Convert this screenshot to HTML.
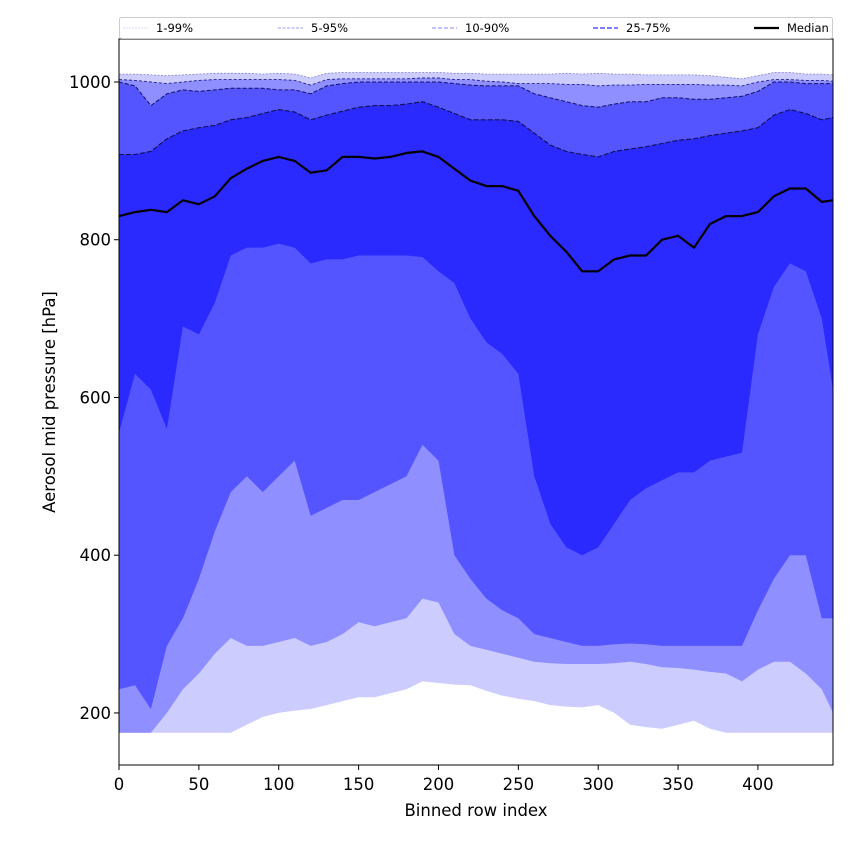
<!DOCTYPE html>
<html><head><meta charset="utf-8"><style>
html,body{margin:0;padding:0;background:#fff;}
svg{display:block;font-family:"DejaVu Sans","Liberation Sans",sans-serif;}
</style></head><body>
<svg id="chart" width="850" height="850" viewBox="0 0 850 850">
<g id="bands"></g>
<g id="lines"></g>
<g id="axes"></g>
<g id="legend"></g>
</svg>
<script>
const xIdx = [0,10,20,30,40,50,60,70,80,90,100,110,120,130,140,150,160,170,180,190,200,210,220,230,240,250,260,270,280,290,300,310,320,330,340,350,360,370,380,390,400,410,420,430,440,447];
const p99 = [1010,1010,1009,1008,1009,1010,1011,1011,1011,1010,1011,1010,1005,1011,1012,1012,1012,1012,1012,1012,1012,1011,1011,1010,1010,1010,1010,1010,1011,1010,1011,1010,1010,1009,1009,1009,1009,1008,1006,1004,1008,1012,1012,1010,1010,1009];
const p95 = [1003,1002,1000,998,1000,1002,1003,1003,1003,1003,1003,1002,996,1003,1004,1004,1004,1004,1004,1005,1005,1003,1003,1001,1000,998,998,998,997,997,995,996,996,997,997,997,997,996,996,995,1000,1003,1003,1002,1002,1001];
const p90 = [1000,995,970,985,990,988,990,992,992,992,990,990,985,995,998,1000,1000,1000,1000,1000,1000,998,996,995,995,995,985,980,975,970,968,972,975,975,980,980,978,978,980,982,988,1000,1000,998,998,998];
const p75 = [908,908,912,928,938,942,945,952,955,960,965,962,952,958,963,968,970,970,972,975,968,960,952,952,952,950,935,920,912,908,905,912,915,918,922,926,928,932,935,938,942,958,965,960,952,955];
const median = [830,835,838,835,850,845,855,878,890,900,905,900,885,888,905,905,903,905,910,912,905,890,875,868,868,862,830,805,785,760,760,775,780,780,800,805,790,820,830,830,835,855,865,865,848,850];
const p25 = [555,630,610,560,690,680,720,780,790,790,795,790,770,775,775,780,780,780,780,778,760,745,700,670,655,630,500,440,410,400,410,440,470,485,495,505,505,520,525,530,680,740,770,760,700,610];
const p10 = [230,235,205,285,320,370,430,480,500,480,500,520,450,460,470,470,480,490,500,540,520,400,370,345,330,320,300,295,290,285,285,287,288,287,285,285,285,285,285,285,330,370,400,400,320,320];
const p5 = [175,175,175,200,230,250,275,295,285,285,290,295,285,290,300,315,310,315,320,345,340,300,285,280,275,270,265,263,262,262,262,263,265,262,258,257,255,252,250,240,255,265,265,250,230,200];
const p1 = [175,175,175,175,175,175,175,175,185,195,200,203,205,210,215,220,220,225,230,240,238,236,235,228,222,218,215,210,208,207,210,200,185,182,180,185,190,180,175,175,175,175,175,175,175,175];
const xTicks = [0,50,100,150,200,250,300,350,400];
const yTicks = [200,400,600,800,1000];
const legendLabels = ["1-99%","5-95%","10-90%","25-75%","Median"];

const NS="http://www.w3.org/2000/svg";
const L=119,R=833,T=39,B=765;
const xMin=0,xMax=447,yMin=134,yMax=1054.5;
function sx(v){return L+(v-xMin)/(xMax-xMin)*(R-L);}
function sy(v){return B-(v-yMin)/(yMax-yMin)*(B-T);}
function mk(tag,attrs,parent){const e=document.createElementNS(NS,tag);for(const k in attrs)e.setAttribute(k,attrs[k]);parent.appendChild(e);return e;}
const bands=document.getElementById('bands'),lines=document.getElementById('lines'),axes=document.getElementById('axes'),legend=document.getElementById('legend');

function bandPath(lo,hi){let d='';for(let i=0;i<xIdx.length;i++)d+=(i?'L':'M')+sx(xIdx[i]).toFixed(1)+','+sy(hi[i]).toFixed(1);for(let i=xIdx.length-1;i>=0;i--)d+='L'+sx(xIdx[i]).toFixed(1)+','+sy(lo[i]).toFixed(1);return d+'Z';}
function linePath(v){let d='';for(let i=0;i<xIdx.length;i++)d+=(i?'L':'M')+sx(xIdx[i]).toFixed(1)+','+sy(v[i]).toFixed(1);return d;}

let b;
b=mk('path',{d:bandPath(p1,p99),fill:'#ccccff'},bands);


b=mk('path',{d:bandPath(p5,p95),fill:'#8f8fff'},bands);


b=mk('path',{d:bandPath(p10,p90),fill:'#5555ff'},bands);


b=mk('path',{d:bandPath(p25,p75),fill:'#2a2aff'},bands);



let ln;
ln=mk('path',{d:linePath(p99),fill:'none',stroke:'#8080d0','stroke-width':0.8,'stroke-dasharray':'2,1.5'},lines);


ln=mk('path',{d:linePath(p95),fill:'none',stroke:'#202090','stroke-width':0.9,'stroke-dasharray':'3,2'},lines);


ln=mk('path',{d:linePath(p90),fill:'none',stroke:'#101060','stroke-width':1,'stroke-dasharray':'4,2'},lines);


ln=mk('path',{d:linePath(p75),fill:'none',stroke:'#101050','stroke-width':1.1,'stroke-dasharray':'5,2'},lines);


ln=mk('path',{d:linePath(median),fill:'none',stroke:'#000','stroke-width':2.2,'stroke-linejoin':'round'},lines);



let fr=mk('rect',{x:L,y:T,width:R-L,height:B-T,fill:'none',stroke:'#000','stroke-width':1},axes);


xTicks.forEach(t=>{
  const x=sx(t);
  const tk=mk('line',{x1:x,x2:x,y1:B,y2:B+5,stroke:'#000','stroke-width':1},axes);
  
  
  const tl=mk('text',{x:x,y:B+25,'text-anchor':'middle','font-size':'16.5px',fill:'#000'},axes);
  tl.textContent=t;
  
  
});
yTicks.forEach(t=>{
  const y=sy(t);
  const tk=mk('line',{x1:L-5,x2:L,y1:y,y2:y,stroke:'#000','stroke-width':1},axes);
  
  
  const tl=mk('text',{x:L-8,y:y+6,'text-anchor':'end','font-size':'16.5px',fill:'#000'},axes);
  tl.textContent=t;
  
  
});
let xt=mk('text',{x:(L+R)/2,y:816,'text-anchor':'middle','font-size':'16.5px',fill:'#000'},axes);
xt.textContent='Binned row index';


let yt=mk('text',{x:0,y:0,'text-anchor':'middle','font-size':'16.5px',fill:'#000',transform:'translate(55,402) rotate(-90)'},axes);
yt.textContent='Aerosol mid pressure [hPa]';



let lb=mk('rect',{x:119.5,y:17.5,width:713,height:21,fill:'#fff',stroke:'#ccc','stroke-width':1,rx:2},legend);


const lgX=[123,278,432,593,754];
const lgCol=['#ccccff','#9999ee','#8888ff','#5555ff','#000'];
const lgDash=['2,1','3,1.5','4,2','5,2','none'];
const lgW=[0.8,0.9,1.1,1.6,2.2];
legendLabels.forEach((lab,i)=>{
  const g=mk('g',{},legend);
  
  
  mk('line',{x1:lgX[i],x2:lgX[i]+25,y1:28,y2:28,stroke:lgCol[i],'stroke-width':lgW[i],'stroke-dasharray':lgDash[i]},g);
  const tx=mk('text',{x:lgX[i]+33,y:32,'font-size':'11.5px',fill:'#000'},g);
  tx.textContent=lab;
});
</script>
</body></html>
